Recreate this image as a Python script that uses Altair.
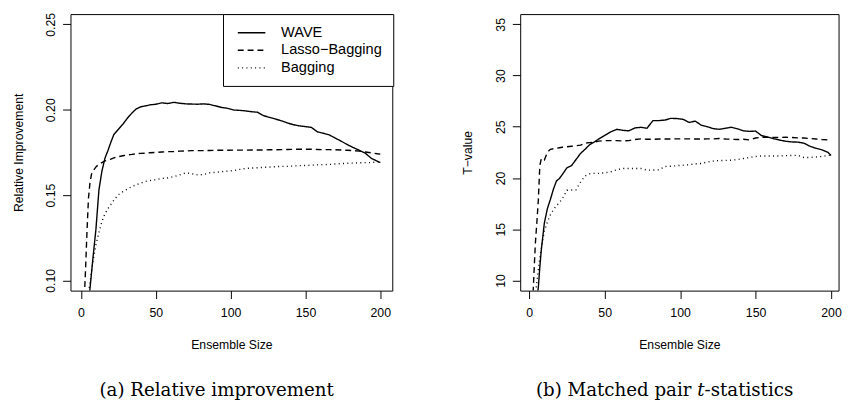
import altair as alt
import pandas as pd

sizes = [1, 2, 3, 4, 5, 6, 7, 8, 10, 12, 14, 16, 18, 20, 22, 25, 28, 31, 34, 37, 40, 43, 46,
         50, 54, 58, 62, 66, 70, 74, 78, 82, 86, 90, 94, 98, 102, 106, 110, 114, 118, 122,
         126, 130, 134, 138, 142, 146, 150, 154, 158, 162, 166, 170, 174, 178, 182, 186,
         190, 194, 198, 200]

methods = ["WAVE", "Lasso\u2212Bagging", "Bagging"]

# (a) Relative improvement
wave_rel = [0.020, 0.040, 0.058, 0.073, 0.085, 0.095, 0.104, 0.113, 0.130, 0.153, 0.164, 0.1715,
            0.176, 0.181, 0.1855, 0.1885, 0.1915, 0.1950, 0.1980, 0.2005, 0.2017, 0.2022, 0.2028,
            0.2032, 0.2040, 0.2036, 0.2043, 0.2038, 0.2034, 0.2033, 0.2032, 0.2034, 0.2031, 0.2022,
            0.2013, 0.2008, 0.1998, 0.1996, 0.1993, 0.1988, 0.1985, 0.1965, 0.1955, 0.1945, 0.1935,
            0.1922, 0.1912, 0.1905, 0.1901, 0.1896, 0.1870, 0.1862, 0.1852, 0.1833, 0.1815, 0.1795,
            0.1778, 0.1762, 0.1745, 0.1715, 0.1698, 0.1690]
lasso_rel = [0.050, 0.085, 0.105, 0.128, 0.148, 0.157, 0.162, 0.164, 0.1665, 0.168, 0.169, 0.170,
             0.1705, 0.171, 0.1718, 0.1725, 0.1730, 0.1735, 0.1738, 0.1742, 0.1744, 0.1745, 0.1748,
             0.1750, 0.1752, 0.1754, 0.1755, 0.1757, 0.1758, 0.1760, 0.1760, 0.1760, 0.1761, 0.1762,
             0.1762, 0.1762, 0.1763, 0.1763, 0.1763, 0.1764, 0.1764, 0.1764, 0.1765, 0.1765, 0.1766,
             0.1767, 0.1768, 0.1768, 0.1768, 0.1768, 0.1767, 0.1766, 0.1766, 0.1765, 0.1764, 0.1762,
             0.1760, 0.1757, 0.1752, 0.1747, 0.1742, 0.1740]
bag_rel = [0.040, 0.060, 0.075, 0.085, 0.093, 0.098, 0.105, 0.111, 0.121, 0.128, 0.1345, 0.139,
           0.142, 0.1445, 0.147, 0.1502, 0.152, 0.1535, 0.155, 0.156, 0.157, 0.158, 0.1585,
           0.159, 0.1597, 0.160, 0.1608, 0.1618, 0.1630, 0.1625, 0.1618, 0.1620, 0.1630, 0.1633,
           0.1637, 0.1640, 0.1643, 0.1650, 0.1656, 0.1658, 0.1660, 0.1662, 0.1664, 0.1666, 0.1668,
           0.1668, 0.1670, 0.1672, 0.1673, 0.1675, 0.1677, 0.1678, 0.1679, 0.1682, 0.1684, 0.1686,
           0.1687, 0.1689, 0.1690, 0.1690, 0.1694, 0.1696]

# (b) Matched pair t-statistics
wave_t = [2.0, 4.0, 5.5, 7.0, 8.2, 9.3, 11.3, 13.0, 15.6, 17.0, 17.9, 18.9, 19.7, 19.95, 20.35,
          21.0, 21.2, 21.8, 22.4, 22.8, 23.25, 23.5, 23.8, 24.15, 24.5, 24.75, 24.65, 24.6,
          24.88, 24.95, 24.85, 25.6, 25.6, 25.66, 25.82, 25.8, 25.72, 25.42, 25.55, 25.15, 25.0,
          24.82, 24.75, 24.85, 24.95, 24.8, 24.6, 24.55, 24.58, 24.13, 24.0, 23.83, 23.7, 23.58,
          23.52, 23.5, 23.4, 23.1, 22.9, 22.75, 22.5, 22.2]
lasso_t = [4.0, 7.0, 10.3, 13.5, 15.6, 17.8, 21.2, 21.9, 21.75, 22.5, 22.8, 22.85, 22.9, 22.95,
           23.0, 23.05, 23.1, 23.15, 23.2, 23.4, 23.45, 23.5, 23.6, 23.65, 23.65, 23.65, 23.62,
           23.65, 23.75, 23.82, 23.78, 23.78, 23.8, 23.8, 23.8, 23.82, 23.82, 23.82, 23.8, 23.8,
           23.82, 23.82, 23.85, 23.8, 23.78, 23.75, 23.78, 23.72, 23.9, 23.98, 23.96, 23.95,
           23.95, 23.98, 23.95, 23.92, 23.9, 23.85, 23.8, 23.75, 23.72, 23.72]
bag_t = [3.0, 5.0, 7.0, 8.5, 9.8, 11.0, 12.2, 13.2, 14.8, 15.7, 16.4, 16.9, 17.3, 17.6, 18.0,
         18.8, 18.82, 18.85, 19.6, 20.2, 20.4, 20.45, 20.45, 20.5, 20.6, 20.8, 20.93, 20.93,
         20.93, 20.93, 20.77, 20.77, 20.8, 21.12, 21.15, 21.2, 21.25, 21.3, 21.38, 21.42, 21.55,
         21.65, 21.7, 21.72, 21.73, 21.8, 21.9, 22.0, 22.1, 22.15, 22.15, 22.15, 22.15, 22.18,
         22.2, 22.21, 22.0, 22.0, 22.05, 22.1, 22.2, 22.2]

x_ticks = [0, 50, 100, 150, 200]
rel_ticks = [0.10, 0.15, 0.20, 0.25]
t_ticks = [10, 15, 20, 25, 30, 35]


def long_table(series):
    rows = []
    for m, vals in zip(methods, series):
        for s, v in zip(sizes, vals):
            rows.append({"size": s, "value": v, "method": m})
    return pd.DataFrame(rows)


def panel(df, xdomain, width, ydomain, yticks, yfmt, ytitle, caption, legend_x):
    return alt.Chart(df).mark_line(clip=True, strokeWidth=1.4, color="black").encode(
        x=alt.X("size:Q",
                scale=alt.Scale(domain=xdomain, nice=False, zero=False),
                axis=alt.Axis(values=x_ticks, title="Ensemble Size", labelPadding=8,
                              titlePadding=20)),
        y=alt.Y("value:Q",
                scale=alt.Scale(domain=ydomain, nice=False, zero=False),
                axis=alt.Axis(values=yticks, format=yfmt, title=ytitle, labelAngle=270,
                              labelAlign="center", labelBaseline="alphabetic",
                              labelPadding=8, titlePadding=20)),
        strokeDash=alt.StrokeDash(
            "method:N",
            scale=alt.Scale(domain=methods, range=[[1, 0], [6, 4], [1, 3.4]]),
            legend=alt.Legend(title=None, orient="none", legendX=legend_x, legendY=0,
                              padding=11, strokeColor="black", fillColor="white",
                              cornerRadius=0, symbolType="M-0.571,0H3.429", symbolSize=196,
                              symbolStrokeWidth=1.4, symbolStrokeColor="black",
                              symbolFillColor="transparent",
                              labelFont="Liberation Sans", labelFontSize=14.8,
                              labelColor="black", labelOffset=32, rowPadding=2.8)),
    ).properties(
        width=width, height=281,
        title=alt.TitleParams(caption, orient="bottom", anchor="middle", dx=-15, offset=31,
                              font="DejaVu Serif", fontSize=18.5, fontWeight="normal",
                              color="black"),
    )


left = panel(long_table([wave_rel, lasso_rel, bag_rel]), [-7, 208], 327,
             [0.094, 0.256], rel_ticks, ".2f",
             "Relative Improvement", "(a) Relative improvement", 155)
right = panel(long_table([wave_t, lasso_t, bag_t]), [-6, 205], 323.5,
              [9, 36], t_ticks, "d",
              "T\u2212value", "(b) Matched pair \U0001D461-statistics", 152)

chart = alt.hconcat(left, right, spacing=69).properties(
    padding={"left": 3.5, "top": 0, "right": 0, "bottom": 0}
).configure_view(
    stroke="black", strokeWidth=1
).configure_axis(
    domain=False, grid=False, tickColor="black", tickSize=8, tickWidth=1,
    labelFont="Liberation Sans", labelFontSize=12.5, labelColor="black",
    titleFont="Liberation Sans", titleFontSize=12.4, titleFontWeight="normal",
    titleColor="black"
)

chart.save("out.html", embed_options={"renderer": "svg", "actions": False})
